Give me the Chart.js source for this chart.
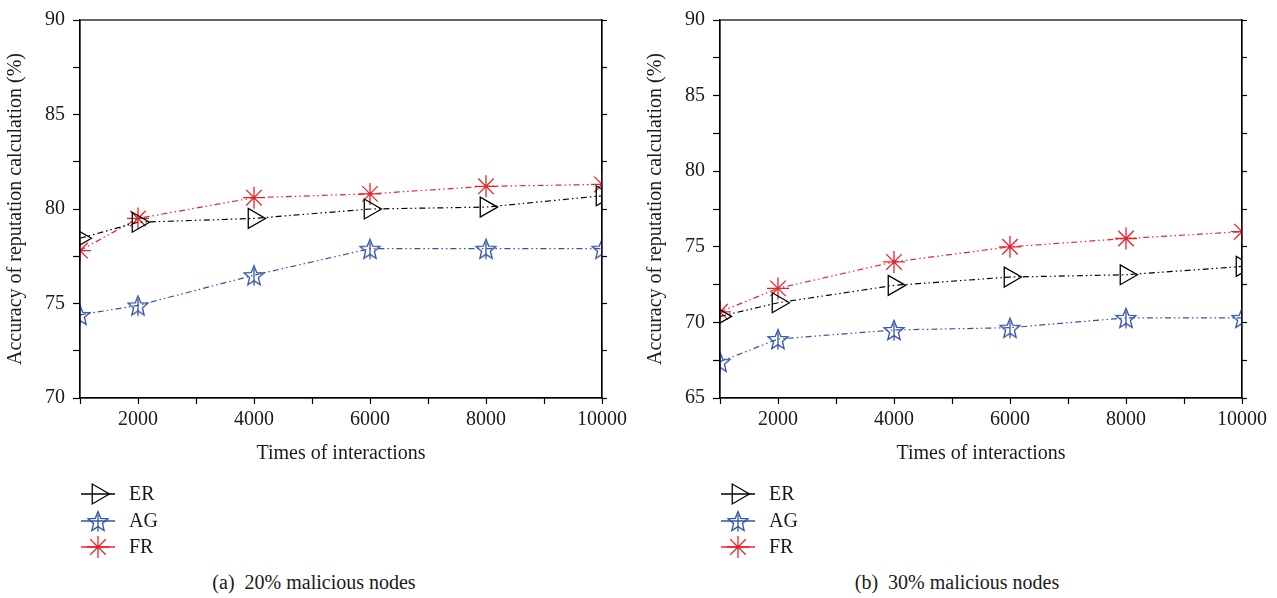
<!DOCTYPE html>
<html>
<head>
<meta charset="utf-8">
<script src="https://cdn.jsdelivr.net/npm/chart.js@4.4.1/dist/chart.umd.min.js"></script>
<style>
    body { margin: 0; background: #fff; width: 1277px; height: 598px; overflow: hidden; position: relative; font-family: "Liberation Serif", serif; }
    canvas { position: absolute; top: 0; }
    #chartA { left: 0; }
    #chartB { left: 640px; }
    .caption { position: absolute; top: 571px; font-size: 20px; color: #1a1a1a; white-space: pre; transform: translateX(-50%); }
</style>
</head>
<body>
<canvas id="chartA" width="640" height="560"></canvas>
<canvas id="chartB" width="637" height="560"></canvas>
<div class="caption" style="left:314px">(a)  20% malicious nodes</div>
<div class="caption" style="left:957px">(b)  30% malicious nodes</div>
<script>
// x values (times of interactions)
const interactions = [1000, 2000, 4000, 6000, 8000, 10000];
const xTickLabels = [2000, 4000, 6000, 8000, 10000];

// (a) 20% malicious nodes
const erA = [78.45, 79.3, 79.5, 80.0, 80.1, 80.7];
const agA = [74.4, 74.9, 76.5, 77.9, 77.9, 77.9];
const frA = [77.8, 79.5, 80.6, 80.8, 81.2, 81.3];
const yRangeA = [70, 90];

// (b) 30% malicious nodes
const erB = [70.4, 71.3, 72.45, 73.0, 73.15, 73.7];
const agB = [67.4, 68.9, 69.5, 69.65, 70.3, 70.3];
const frB = [70.7, 72.25, 74.0, 75.0, 75.55, 76.0];
const yRangeB = [65, 90];

const textColor = '#1a1a1a';
const font = { family: 'Liberation Serif', size: 20 };

function makeStar(color) {
    const size = 24;
    const c = document.createElement('canvas');
    c.width = size;
    c.height = size;
    const ctx = c.getContext('2d');
    const cx = size / 2, cy = size / 2 + 1, R = 10.5, r = 4.6;
    ctx.strokeStyle = color;
    ctx.lineWidth = 1.3;
    ctx.beginPath();
    for (let i = 0; i < 10; i++) {
        const a = -Math.PI / 2 + i * Math.PI / 5;
        const rad = i % 2 === 0 ? R : r;
        const px = cx + rad * Math.cos(a), py = cy + rad * Math.sin(a);
        if (i === 0) ctx.moveTo(px, py); else ctx.lineTo(px, py);
    }
    ctx.closePath();
    ctx.stroke();
    ctx.beginPath();
    ctx.moveTo(cx, cy - R + 3);
    ctx.lineTo(cx, cy + R - 1);
    ctx.stroke();
    return c;
}

const blueStar = makeStar('#3353a8');

function series(label, values, color, style, radius, rotation) {
    return {
        label,
        data: interactions.map((x, i) => ({ x, y: values[i] })),
        borderColor: color,
        backgroundColor: 'rgba(0,0,0,0)',
        borderWidth: 1.2,
        borderDash: [6, 3, 1.5, 3, 1.5, 3],
        pointStyle: style,
        pointRadius: radius,
        pointRotation: rotation,
        pointBorderColor: color,
        pointBackgroundColor: 'rgba(0,0,0,0)',
        pointBorderWidth: 1.3,
        tension: 0,
        fill: false,
    };
}

const framePlugin = {
    id: 'frame',
    afterDraw(chart) {
        const { left, top, right, bottom } = chart.chartArea;
        const ctx = chart.ctx;
        ctx.save();
        ctx.strokeStyle = '#000';
        ctx.lineWidth = 1.2;
        ctx.setLineDash([]);
        ctx.strokeRect(left, top, right - left, bottom - top);
        ctx.restore();
    },
};

const legendPlugin = {
    id: 'sideLegend',
    afterDraw(chart) {
        const ctx = chart.ctx;
        const { left, bottom } = chart.chartArea;
        const rows = [96, 123, 149];
        chart.data.datasets.forEach((ds, i) => {
            const y = bottom + rows[i];
            ctx.save();
            ctx.strokeStyle = ds.borderColor;
            ctx.lineWidth = 1.3;
            ctx.setLineDash([]);
            ctx.beginPath();
            ctx.moveTo(left + 1, y);
            ctx.lineTo(left + 35, y);
            ctx.stroke();
            ctx.fillStyle = 'rgba(0,0,0,0)';
            Chart.helpers.drawPoint(ctx, {
                pointStyle: ds.pointStyle,
                rotation: ds.pointRotation,
                radius: ds.pointRadius,
                borderWidth: ds.pointBorderWidth,
            }, left + 18, y);
            ctx.fillStyle = textColor;
            ctx.font = `${font.size}px ${font.family}`;
            ctx.textBaseline = 'middle';
            ctx.fillText(ds.label, left + 49, y + 1);
            ctx.restore();
        });
    },
};

function buildChart(canvasId, yRange, er, ag, fr) {
    const canvas = document.getElementById(canvasId);
    const rightWidth = canvas.width - 602;
    return new Chart(canvas, {
        type: 'line',
        data: {
            datasets: [
                series('ER', er, '#000000', 'triangle', 11.5, 90),
                series('AG', ag, '#3353a8', blueStar, 10, 0),
                series('FR', fr, '#e8242b', 'star', 11, 0),
            ],
        },
        options: {
            responsive: false,
            animation: false,
            layout: { padding: { top: 12, bottom: 90, left: 0, right: 0 } },
            plugins: { legend: { display: false }, tooltip: { enabled: false } },
            scales: {
                x: {
                    type: 'linear',
                    min: 1000,
                    max: 10000,
                    ticks: {
                        stepSize: 1000,
                        autoSkip: false,
                        maxRotation: 0,
                        padding: 4,
                        color: textColor,
                        font,
                        callback: (v) => xTickLabels.includes(v) ? String(v) : '',
                    },
                    grid: { drawOnChartArea: false, tickLength: 6, tickColor: '#000', tickWidth: 1.2 },
                    border: { color: '#000', width: 1.2 },
                    title: { display: true, text: 'Times of interactions', color: textColor, font, padding: { top: 4, bottom: 4 } },
                    afterFit: (s) => { s.height = 72; },
                },
                y: {
                    min: yRange[0],
                    max: yRange[1],
                    ticks: {
                        stepSize: 2.5,
                        autoSkip: false,
                        padding: 8,
                        color: textColor,
                        font,
                        callback: (v) => v % 5 === 0 ? String(v) : '',
                    },
                    grid: { drawOnChartArea: false, tickLength: 7, tickColor: '#000', tickWidth: 1.2 },
                    border: { color: '#000', width: 1.2 },
                    title: { display: true, text: 'Accuracy of reputation calculation (%)', color: textColor, font, padding: { top: 4, bottom: 4 } },
                    afterFit: (s) => { s.width = 80; },
                },
                y2: {
                    position: 'right',
                    min: yRange[0],
                    max: yRange[1],
                    ticks: { stepSize: 2.5, autoSkip: false, callback: () => '' },
                    grid: { drawOnChartArea: false, tickLength: 5, tickColor: '#000', tickWidth: 1.2 },
                    border: { color: '#000', width: 1.2 },
                    afterFit: (s) => { s.width = rightWidth; },
                },
            },
        },
        plugins: [framePlugin, legendPlugin],
    });
}

buildChart('chartA', yRangeA, erA, agA, frA);
buildChart('chartB', yRangeB, erB, agB, frB);
</script>
</body>
</html>
